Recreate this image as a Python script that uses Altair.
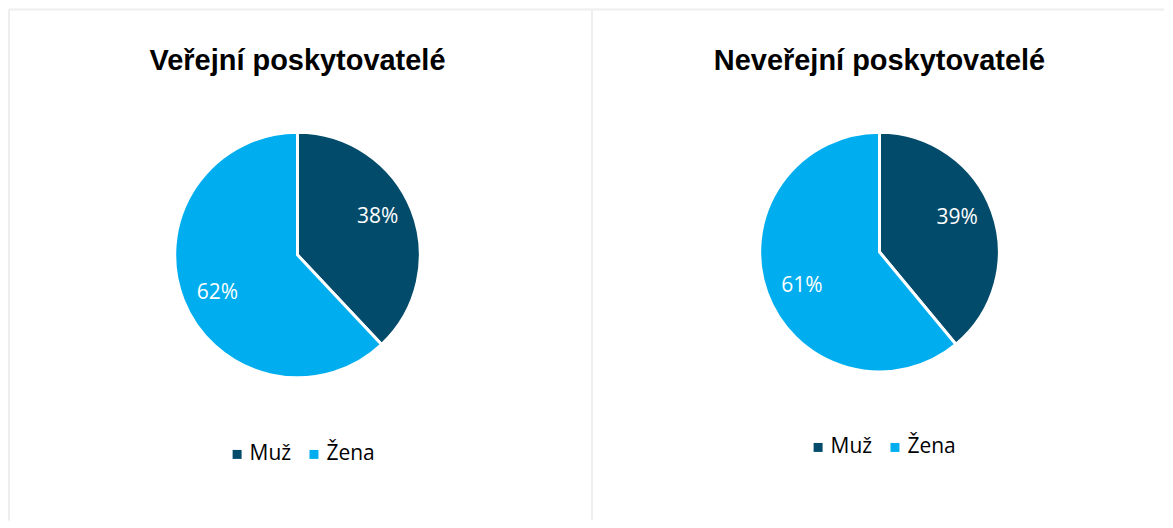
import math
import altair as alt
import pandas as pd

categories = ["Muž", "Žena"]
verejni = [38, 62]
neverejni = [39, 61]
titles = ["Veřejní poskytovatelé", "Neveřejní poskytovatelé"]
colors = ["#034B6B", "#00AEEF"]

H = 512
BORDER = "#eeeeee"
LABEL_ROT = -0.07  # Excel-like label placement, slightly rotated


def panel(title, values, width, cx, cy, r, lab_r, leg_x, leg_y, left_border, right_border):
    df = pd.DataFrame({
        "cat": categories,
        "val": values,
        "ord": list(range(len(categories))),
        "lab": [f"{v}%" for v in values],
    })
    arc = alt.Chart(df).mark_arc(outerRadius=r, stroke="white", strokeWidth=3).encode(
        theta=alt.Theta("val:Q", stack=True),
        order=alt.Order("ord:Q"),
        x=alt.value(cx),
        y=alt.value(cy),
        color=alt.Color(
            "cat:N",
            scale=alt.Scale(domain=categories, range=colors),
            legend=alt.Legend(
                title=None,
                orient="none",
                direction="horizontal",
                legendX=leg_x,
                legendY=leg_y,
                symbolType="square",
                symbolSize=81,
                symbolStrokeWidth=0,
                labelFont="Open Sans",
                labelFontSize=21,
                labelColor="#000000",
                labelOffset=2,
                columnPadding=12,
                padding=0,
            ),
        ),
    )
    labels = alt.Chart(df).mark_text(
        radius=lab_r, font="Open Sans", fontSize=21, color="white"
    ).encode(
        theta=alt.Theta(
            "val:Q", stack=True,
            scale=alt.Scale(range=[LABEL_ROT, 2 * math.pi + LABEL_ROT]),
        ),
        order=alt.Order("ord:Q"),
        x=alt.value(cx),
        y=alt.value(cy),
        text="lab:N",
    )

    tdf = pd.DataFrame({"t": [title]})
    ttl = alt.Chart(tdf).mark_text(
        font="Liberation Sans", fontWeight="bold", fontSize=29, color="#000000",
        baseline="alphabetic", align="center",
    ).encode(x=alt.value(cx), y=alt.value(61), text="t:N")

    layers = [arc, labels, ttl]
    rule_df = pd.DataFrame({"k": [0]})
    top = alt.Chart(rule_df).mark_rule(color=BORDER, strokeWidth=2).encode(
        x=alt.value(0), x2=alt.value(width), y=alt.value(0)
    )
    layers.append(top)
    if left_border:
        layers.append(alt.Chart(rule_df).mark_rule(color=BORDER, strokeWidth=2).encode(
            x=alt.value(0), y=alt.value(0), y2=alt.value(H)))
    if right_border:
        layers.append(alt.Chart(rule_df).mark_rule(color=BORDER, strokeWidth=2).encode(
            x=alt.value(width), y=alt.value(0), y2=alt.value(H)))
    return (
        alt.layer(*layers)
        .resolve_scale(theta="independent")
        .properties(width=width, height=H)
    )


left = panel(titles[0], verejni, 584, 289, 246, 123, 89, 218, 435, True, True)
right = panel(titles[1], neverejni, 573, 288, 243, 120, 85, 216, 428, False, False)

chart = (
    alt.hconcat(left, right, spacing=0, bounds="flush")
    .resolve_scale(color="independent")
    .properties(padding=0, background="white")
    .configure_view(stroke=None)
)

chart.save("out.html", embed_options={"renderer": "svg", "actions": False})
